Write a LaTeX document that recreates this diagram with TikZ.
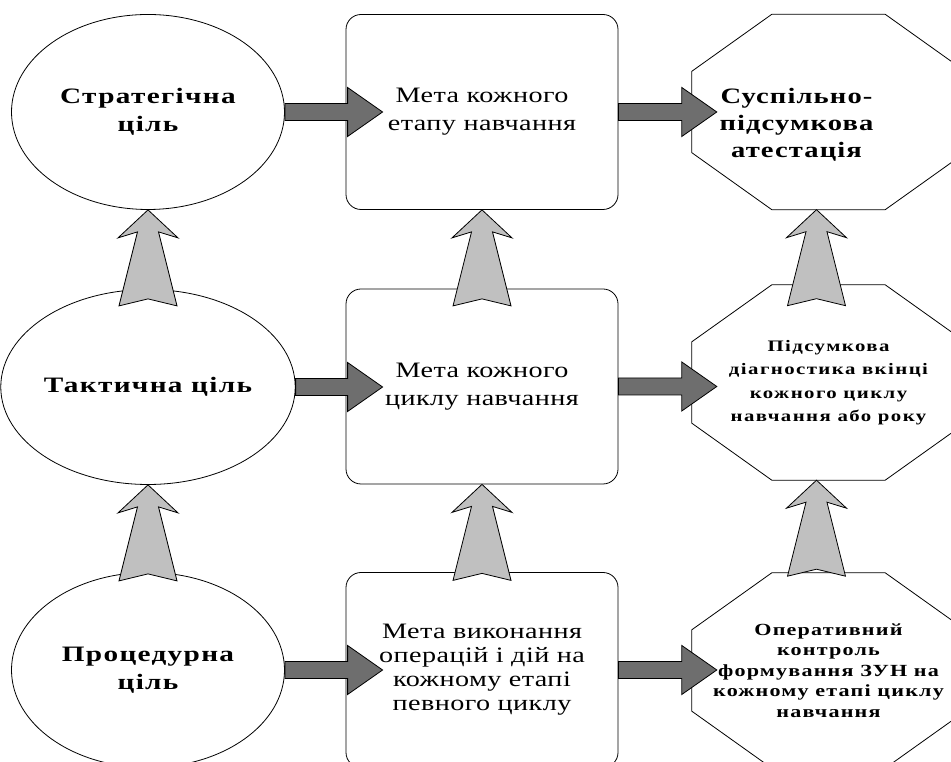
\documentclass[tikz,border=0pt]{standalone}
\usepackage{fontspec}
\setmainfont{Liberation Serif}
\usetikzlibrary{shapes,calc}

\definecolor{arrdark}{HTML}{6E6E6E}
\definecolor{arrlight}{HTML}{C0C0C0}

% octagon round a node
\newcommand{\octframe}[1]{%
  \draw[line width=0.8pt] ([xshift=80pt]#1.north west) -- ([xshift=-80pt]#1.north east)
    -- ([yshift=-57pt]#1.north east) -- ([yshift=57pt]#1.south east)
    -- ([xshift=-80pt]#1.south east) -- ([xshift=80pt]#1.south west)
    -- ([yshift=57pt]#1.south west) -- ([yshift=-57pt]#1.north west) -- cycle;}

\begin{document}
\begin{tikzpicture}[x=1pt,y=1pt,
  every node/.style={align=center,inner sep=0pt},
  goal/.style={ellipse,draw,line width=0.8pt,minimum width=273pt,minimum height=195pt,
    font=\fontsize{22}{28}\selectfont\bfseries\addfontfeature{FakeStretch=1.33,LetterSpace=6}},
  aim/.style={rectangle,rounded corners=15pt,draw,line width=0.8pt,minimum width=272pt,minimum height=195pt,
    font=\fontsize{22}{28}\selectfont\addfontfeature{FakeStretch=1.28,LetterSpace=2}},
  check/.style={rectangle,minimum width=273pt,minimum height=195pt,
    font=\fontsize{16}{23.5}\selectfont\bfseries\addfontfeature{FakeStretch=1.3,LetterSpace=9}},
  horarrow/.style={fill=arrdark,draw,line width=0.8pt,
    to path={let \p1=(\tikztostart),\p2=(\tikztotarget) in
      (\x1,\y1+8.5pt) -- (\x2+#1,\y1+8.5pt) -- (\x2+#1,\y1+24.5pt) -- (\x2+#1+35pt,\y1)
      -- (\x2+#1,\y1-24.5pt) -- (\x2+#1,\y1-8.5pt) -- (\x1,\y1-8.5pt) -- cycle}},
  uparrow/.style={fill=arrlight,draw,line width=0.8pt,
    to path={let \p2=(\tikztotarget) in
      (\x2+#1,\y2) -- ++(30pt,-28pt) -- ++(-19.5pt,6pt) -- ++(18.5pt,-74pt) -- ++(-29pt,7pt)
      -- ++(-29pt,-7pt) -- ++(18.5pt,74pt) -- ++(-19.5pt,-6pt) -- cycle}},
  uparrow/.default=0pt]

  \useasboundingbox (0,0) rectangle (951,762);

  % goals
  \node[goal] (strat) at (148,650) {Стратегічна\\ціль};
  \node[goal] (takt) at (148,375) {Тактична ціль};
  \node[goal] (proced) at (148,92) {Процедурна\\ціль};

  % aims
  \node[aim] (etap) at (482,650) {Мета кожного\\етапу навчання};
  \node[aim] (cykl) at (482,375.5) {Мета кожного\\циклу навчання};
  \node[aim,font=\fontsize{22}{24}\selectfont\addfontfeature{FakeStretch=1.28,LetterSpace=2}] (oper) at (482,92)
    {Мета виконання\\операцій і дій на\\кожному етапі\\певного циклу};

  % checks
  \node[check,label={[font=\fontsize{22}{27}\selectfont\bfseries\addfontfeature{FakeStretch=1.3,LetterSpace=5},
      xshift=-32pt,yshift=-13pt]center:{Суспільно-\\підсумкова\\атестація}}] (atest) at (828.5,650) {};
  \node[check] (diagn) at (828.5,379.5)
    {Підсумкова\\діагностика вкінці\\кожного циклу\\навчання або року};
  \node[check,font=\fontsize{17}{20.5}\selectfont\bfseries\addfontfeature{FakeStretch=1.3,LetterSpace=7}] (kontr) at (828.5,91.5)
    {Оперативний\\контроль\\формування ЗУН на\\кожному етапі циклу\\навчання};
  \octframe{atest}
  \octframe{diagn}
  \octframe{kontr}

  \draw[horarrow=2pt] (strat.east) to (etap.west);
  \draw[horarrow=2pt] (takt.east) to (cykl.west);
  \draw[horarrow=2pt] (proced.east) to (oper.west);
  \draw[horarrow=-10pt] (etap.east) to (atest.west);
  \draw[horarrow=-10pt] (cykl.east) to (diagn.west);
  \draw[horarrow=-10pt] (oper.east) to (kontr.west);

  \draw[uparrow] (takt.north) to (strat.south);
  \draw[uparrow] (proced.north) to (takt.south);
  \draw[uparrow] (cykl.north) to (etap.south);
  \draw[uparrow] (oper.north) to (cykl.south);
  \draw[uparrow=-12pt] (diagn.north) to (atest.south);
  \draw[uparrow=-12pt] (kontr.north) to (diagn.south);
\end{tikzpicture}
\end{document}
